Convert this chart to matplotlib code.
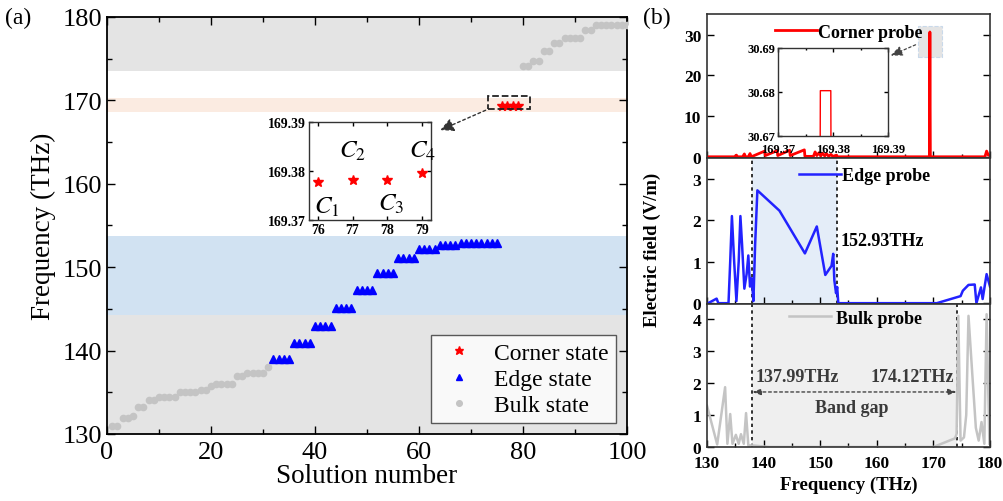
import matplotlib
matplotlib.use("Agg")
import matplotlib.pyplot as plt
from matplotlib.patches import Rectangle
from matplotlib.ticker import MultipleLocator

plt.rcParams['font.family'] = ['Liberation Serif', 'DejaVu Serif']
plt.rcParams['mathtext.fontset'] = 'stix'

# ---------------- data: panel (a) ----------------
bulk_x = list(range(1, 32)) + list(range(80, 101))
bulk_y = [131.0, 131.0, 131.9, 131.9, 132.2, 133.2, 133.2, 134.1, 134.1,
          134.4, 134.4, 134.4, 134.4, 135.0, 135.0, 135.0, 135.0, 135.3, 135.3,
          135.8, 136.0, 136.0, 136.0, 136.0, 136.9, 136.9, 137.3, 137.3, 137.3,
          137.3, 138.0,
          174.1, 174.1, 174.7, 174.7, 175.9, 175.9, 176.9, 176.9, 177.5, 177.5,
          177.5, 177.5, 178.4, 178.4, 179.1, 179.1, 179.1, 179.1, 179.1, 179.1,
          179.1]
edge_x = list(range(32, 76))
edge_levels = [139.0, 140.9, 142.9, 145.1, 147.3, 149.35, 151.1, 152.2,
               152.65, 152.85, 152.93]
edge_y = [lv for lv in edge_levels for _ in range(4)]
corner_x = [76, 77, 78, 79]
corner_y = [169.3778, 169.3782, 169.3782, 169.3796]
corner_labels = ['$C_1$', '$C_2$', '$C_3$', '$C_4$']

# ---------------- data: panel (b) ----------------
cp_f = [130.0, 134.9, 135.2, 135.4, 136.3, 136.6, 136.8, 137.3, 137.6, 137.8,
        138.0, 140.2, 140.3, 142.4, 142.5, 144.6, 144.7, 147.2, 147.3, 148.8,
        149.1, 149.4, 149.8, 150.1, 150.4, 150.8, 151.1, 151.5, 151.9, 152.2,
        152.9, 153.0, 169.30, 169.3777, 169.3796, 169.46, 179.1, 179.4, 179.7,
        180.0]
cp_e = [0, 0, 0.4, 0, 0, 0.7, 0, 0, 0.8, 0,
        0.1, 1.4, 0.3, 1.5, 0.3, 1.6, 0.3, 1.7, 0.1, 0.1,
        1.2, 0.3, 1.0, 0.2, 0.9, 0.2, 0.8, 0.1, 0.6, 0.1,
        0.4, 0, 0, 30.6803, 30.6803, 0, 0, 1.4, 0.4, 0.3]

ep_f = [130.2, 131.7, 132.0, 133.8, 134.1, 134.4, 134.8, 135.2, 135.6, 135.9,
        136.2, 136.6, 137.0, 137.3, 137.6, 137.9, 138.2, 138.5, 138.9, 142.8,
        147.3, 149.4, 150.9, 152.0, 152.3, 152.5, 152.8, 153.0, 153.2, 170.6,
        174.8, 175.2, 176.2, 177.3, 177.6, 178.4, 178.7, 179.4, 180.0]
ep_e = [0, 0.11, 0, 0, 1.0, 2.1, 1.0, 0.05, 1.0, 2.1,
        1.4, 0.35, 0.7, 1.15, 0.4, 0.6, 0.05, 1.4, 2.72, 2.23,
        1.2, 1.85, 0.68, 0.9, 1.19, 0.55, 0.24, 0.39, 0.0, 0.0,
        0.17, 0.3, 0.44, 0.45, 0.0, 0.38, 0.1, 0.7, 0.4]

bp_f = [130.0, 131.8, 133.2, 133.6, 134.1, 134.5, 135.1, 135.6, 136.0, 136.5,
        136.9, 137.3, 138.0, 141.0, 170.0, 173.8, 174.1, 174.4, 174.8, 175.4,
        175.8, 176.2, 176.9, 177.5, 178.0, 178.5, 179.0, 179.4, 179.9]
bp_e = [1.29, 0.08, 1.87, 0.1, 1.03, 0.1, 0.38, 0.1, 0.4, 0.1,
        1.06, 0.05, 0.05, 0.0, 0.0, 0.27, 0.4, 4.1, 0.2, 0.3,
        1.0, 4.1, 2.2, 0.6, 0.2, 0.78, 0.1, 4.15, 0.1]

gap_low, gap_high, edge_top = 137.99, 174.12, 152.93

W, H = 1004, 502
fig = plt.figure(figsize=(W / 100, H / 100), dpi=100)


def px_axes(l, t, r, b):
    return fig.add_axes([l / W, 1 - b / H, (r - l) / W, (b - t) / H])


def style_ticks(ax, size, bold=False, length=5):
    ax.tick_params(which='both', direction='in', top=True, right=True,
                   labelsize=size, width=1)
    ax.tick_params(which='major', length=length)
    ax.tick_params(which='minor', length=length * 0.6)
    if bold:
        for lab in ax.get_xticklabels() + ax.get_yticklabels():
            lab.set_fontweight('bold')


# ================= panel (a) =================
ax = px_axes(107, 18, 627, 435)
ax.axhspan(130, 144.3, color='#e4e4e4', lw=0, zorder=0)
ax.axhspan(173.5, 180, color='#e4e4e4', lw=0, zorder=0)
ax.axhspan(144.3, 153.7, color='#d1e2f2', lw=0, zorder=0)
ax.axhspan(168.6, 170.3, color='#fbebe1', lw=0, zorder=0)
ax.plot(corner_x, corner_y, ls='none', marker='*', ms=7, color='red',
        label='Corner state', zorder=3)
ax.plot(edge_x, edge_y, ls='none', marker='^', ms=5.5, color='#0000ff',
        label='Edge state', zorder=3)
ax.plot(bulk_x, bulk_y, ls='none', marker='o', ms=4.5, color='#c4c4c4',
        label='Bulk state', zorder=3)
ax.set_xlim(0, 100)
ax.set_ylim(130, 180)
ax.xaxis.set_major_locator(MultipleLocator(20))
ax.xaxis.set_minor_locator(MultipleLocator(10))
ax.yaxis.set_major_locator(MultipleLocator(10))
ax.yaxis.set_minor_locator(MultipleLocator(5))
style_ticks(ax, 19, length=6)
ax.tick_params(axis='x', pad=5)
ax.set_xlabel('Solution number', fontsize=19.5, labelpad=0)
ax.set_ylabel('Frequency (THz)', fontsize=19.5, labelpad=5)
for s in ax.spines.values():
    s.set_linewidth(1.3)
leg = ax.legend(loc='lower right', bbox_to_anchor=(0.979, 0.026), fontsize=17,
                frameon=True, fancybox=False, edgecolor='#333333',
                handletextpad=0.6, borderpad=0.3, labelspacing=0.2,
                markerscale=0.9, handlelength=1.8, borderaxespad=0)
leg.get_frame().set_linewidth(1.0)
ax.add_patch(Rectangle((73.3, 169.0), 8.0, 1.5, fill=False, ls='--', lw=1.3,
                       ec='#222222', zorder=4))
ax.annotate('', xy=(63.6, 166.3), xytext=(73.3, 168.95),
            arrowprops=dict(arrowstyle='-|>,head_length=0.8,head_width=0.4',
                            ls=(0, (2, 2)), color='#333333', lw=1.0))

# inset (a)
axi = px_axes(309, 123, 431, 221)
axi.plot(corner_x, corner_y, ls='none', marker='*', ms=7, color='red')
axi.set_xlim(75.75, 79.25)
axi.set_ylim(169.37, 169.39)
axi.set_xticks([76, 77, 78, 79])
axi.set_yticks([169.37, 169.38, 169.39])
axi.yaxis.set_major_formatter(matplotlib.ticker.FormatStrFormatter('%.2f'))
style_ticks(axi, 10, bold=True, length=3)
axi.tick_params(pad=2)
for s in axi.spines.values():
    s.set_linewidth(1.0)
    s.set_color('#333333')
label_pos = [(76.25, 169.3727), (77.0, 169.3843), (78.1, 169.3733),
             (79.0, 169.3843)]
for (lx, ly), t in zip(label_pos, corner_labels):
    axi.text(lx, ly, t, fontsize=18, ha='center', va='center')

fig.text(5 / W, 1 - 18 / H, '(a)', fontsize=17, va='center', ha='left')
fig.text(643 / W, 1 - 18 / H, '(b)', fontsize=17, va='center', ha='left')

# ================= panel (b) =================
axT = px_axes(707, 15, 990, 159)
axM = px_axes(707, 159, 990, 305)
axB = px_axes(707, 305, 990, 448)

axT.plot(cp_f, cp_e, color='red', lw=2.0, label='Corner probe')
axM.plot(ep_f, ep_e, color='#2222ff', lw=1.8, label='Edge probe')
axB.plot(bp_f, bp_e, color='#c4c4c4', lw=1.8, label='Bulk probe')

axM.axvspan(gap_low, edge_top, color='#e4edf8', lw=0, zorder=0)
axB.axvspan(gap_low, gap_high, color='#efefef', lw=0, zorder=0)
for a_, xs in ((axM, (gap_low, edge_top)), (axB, (gap_low, gap_high))):
    for xv in xs:
        a_.axvline(xv, color='#111111', ls=(0, (2, 2)), lw=1.2, zorder=1)

for a_ in (axT, axM, axB):
    a_.set_xlim(130, 180)
    a_.xaxis.set_major_locator(MultipleLocator(10))
    a_.xaxis.set_minor_locator(MultipleLocator(5))
    for s in a_.spines.values():
        s.set_linewidth(1.2)
        s.set_color('#333333')
axT.set_ylim(-0.3, 35.1)
axT.set_yticks([0, 10, 20, 30])
axM.set_ylim(-0.02, 3.5)
axM.set_yticks([0, 1, 2, 3])
axB.set_ylim(0, 4.47)
axB.set_yticks([0, 1, 2, 3, 4])
for a_ in (axT, axM, axB):
    style_ticks(a_, 12.5, bold=True, length=5)
    a_.tick_params(axis='x', which='both', top=False)
    a_.tick_params(axis='y', pad=4)
axB.tick_params(axis='x', pad=6)
axT.tick_params(axis='x', labelbottom=False)
axM.tick_params(axis='x', labelbottom=False)
axB.set_xlabel('Frequency (THz)', fontsize=13.5, fontweight='bold', labelpad=3)
fig.text(652 / W, 1 - 250 / H, 'Electric field (V/m)', rotation=90,
         fontsize=13.5, fontweight='bold', ha='center', va='center')

lp = dict(weight='bold', size=13)
axT.legend(loc='center left', bbox_to_anchor=(0.215, 0.875), frameon=False,
           prop=lp, handlelength=2.3, handletextpad=0.1, borderaxespad=0)
axM.legend(loc='center left', bbox_to_anchor=(0.30, 0.877), frameon=False,
           prop=lp, handlelength=2.3, handletextpad=0.1, borderaxespad=0)
axB.legend(loc='center left', bbox_to_anchor=(0.265, 0.90), frameon=False,
           prop=lp, handlelength=2.3, handletextpad=0.3, borderaxespad=0)

axM.text(153.6, 1.5, '152.93THz', fontsize=13, fontweight='bold',
         ha='left', va='center')
axB.annotate('', xy=(gap_low, 1.72), xytext=(gap_high, 1.72),
             arrowprops=dict(arrowstyle='<|-|>,head_length=0.5,head_width=0.18',
                             ls=(0, (2, 2)), color='#444444', lw=1.0,
                             shrinkA=0, shrinkB=0))
axB.text(138.6, 1.95, '137.99THz', fontsize=13, fontweight='bold',
         color='#3a3a3a', ha='left', va='bottom')
axB.text(173.7, 1.95, '174.12THz', fontsize=13, fontweight='bold',
         color='#3a3a3a', ha='right', va='bottom')
axB.text(155.5, 1.25, 'Band gap', fontsize=13, fontweight='bold',
         color='#3a3a3a', ha='center', va='center')

# highlight box + inset for the corner spike
axT.add_patch(Rectangle((167.3, 24.6), 4.2, 7.6, fc='#e4e4e4', ec='#c9d9ea',
                        ls='--', lw=0.8, zorder=0))
axT.annotate('', xy=(162.0, 24.6), xytext=(167.3, 27.8),
             arrowprops=dict(arrowstyle='-|>,head_length=0.7,head_width=0.3',
                             ls=(0, (2, 2)), color='#444444', lw=0.9))

axTi = px_axes(778, 49, 888, 137)
axTi.plot(cp_f, cp_e, color='red', lw=1.0)
axTi.set_xlim(169.37, 169.39)
axTi.set_ylim(30.67, 30.69)
axTi.set_xticks([169.37, 169.38, 169.39])
axTi.set_yticks([30.67, 30.68, 30.69])
axTi.xaxis.set_minor_locator(MultipleLocator(0.005))
axTi.xaxis.set_major_formatter(matplotlib.ticker.FormatStrFormatter('%.2f'))
axTi.yaxis.set_major_formatter(matplotlib.ticker.FormatStrFormatter('%.2f'))
style_ticks(axTi, 9, bold=True, length=3)
axTi.tick_params(axis='x', pad=5)
axTi.tick_params(axis='y', pad=2)
for s in axTi.spines.values():
    s.set_linewidth(1.0)
    s.set_color('#333333')

fig.savefig('out.png', dpi=100)
